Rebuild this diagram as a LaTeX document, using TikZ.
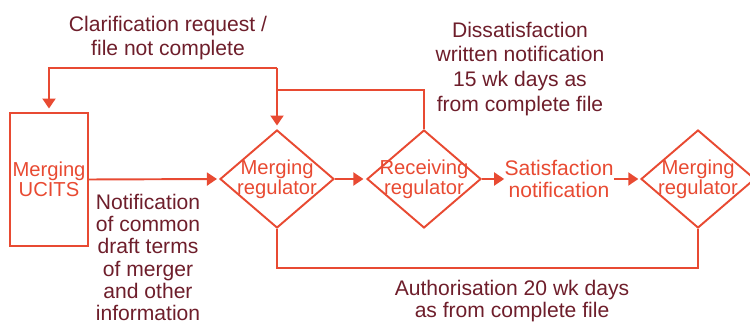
\documentclass[tikz,border=0pt]{standalone}
\usepackage{fontspec}
\setmainfont{Liberation Sans}
\usetikzlibrary{shapes.geometric,arrows.meta}
\definecolor{flowred}{RGB}{232,74,50}
\definecolor{notered}{RGB}{110,30,43}

\begin{document}
\begin{tikzpicture}[x=0.02cm,y=-0.02cm,
    line/.style={draw=flowred,line width=1.1pt},
    arrow/.style={line,-{Triangle[length=0.2cm,width=0.26cm]}},
    regbox/.style={diamond,draw=flowred,line width=1.1pt,minimum width=2.28cm,minimum height=1.96cm,inner sep=0pt},
    boxtext/.style={text=flowred,font=\fontsize{11.5}{11.5}\selectfont,align=center,inner sep=0pt},
    note/.style={text=notered,font=\fontsize{12}{14}\selectfont,align=center,inner sep=0pt}]
    \useasboundingbox (0,0) rectangle (750,323);
    % boxes and diamonds
    \node[draw=flowred,line width=1.1pt,minimum width=1.56cm,minimum height=2.66cm,inner sep=0pt] (ucits) at (49,179.5) {};
    \node[boxtext] (ucitstext) at (ucits) {Merging\\UCITS};
    \node[regbox] (mreg) at (277,179) {};
    \node[boxtext] (mregtext) at (mreg) {Merging\\regulator};
    \node[regbox] (rreg) at (424,179) {};
    \node[boxtext] (rregtext) at (rreg) {Receiving\\regulator};
    \node[regbox] (mregend) at (698,179) {};
    \node[boxtext] (mregendtext) at (mregend) {Merging\\regulator};
    \node[boxtext,font=\fontsize{12}{12.5}\selectfont] (satis) at (559,179) {Satisfaction\\notification};
    % connectors
    \draw[arrow,shorten >=1.2pt] (ucits.east) -- (mreg.west);
    \draw[arrow,shorten >=1.5pt] (mreg.east) -- (rreg.west);
    \draw[arrow] (rreg.east) -- (satis.west);
    \draw[arrow,shorten >=1pt] (satis.east) -- (mregend.west);
    \coordinate (junction) at (277,90);
    \coordinate (corner) at (277,68);
    \draw[line] (rreg.north) |- (junction);
    \draw[arrow,shorten >=2pt] (corner) -- (mreg.north);
    \draw[arrow,shorten >=2pt] (corner) -| (ucits.north);
    \draw[line] (mreg.south) -- ++(0,39) -| (mregend.south);
    % notes
    \node[note] (clarif) at (168,38) {Clarification request /\\file not complete};
    \node[note,font=\fontsize{12}{14.2}\selectfont] (dissat) at (520,69) {Dissatisfaction\\written notification\\15 wk days as\\from complete file};
    \node[note,font=\fontsize{12}{12.7}\selectfont] (notif) at (148,257.5) {Notification\\of common\\draft terms\\of merger\\and other\\information};
    \node[note,font=\fontsize{12}{13}\selectfont] (author) at (512,301) {Authorisation 20 wk days\\as from complete file};
\end{tikzpicture}
\end{document}
